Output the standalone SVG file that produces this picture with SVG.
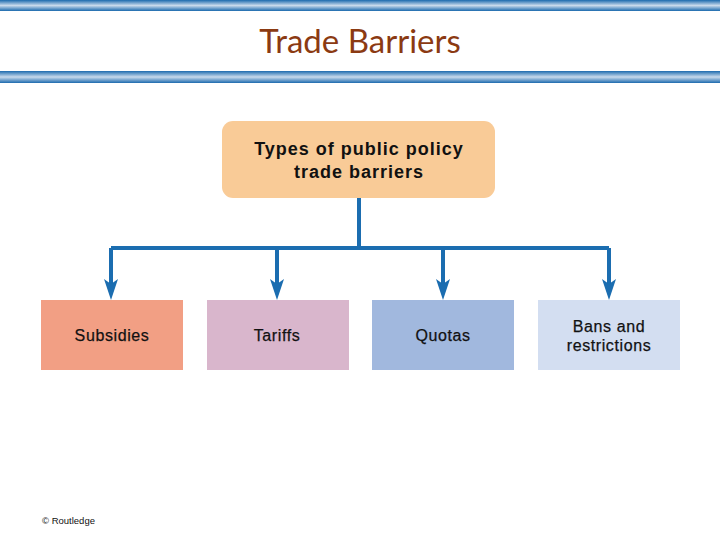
<svg xmlns="http://www.w3.org/2000/svg" width="720" height="540" viewBox="0 0 720 540">
<style>
.bar{fill:url(#barg)}
.lbl{font-family:"Liberation Sans",Arial,sans-serif;font-size:16px;fill:#111;text-anchor:middle;letter-spacing:0.6px;stroke:#111;stroke-width:0.25px}
.top{font-family:"Liberation Sans",Arial,sans-serif;font-size:18px;font-weight:bold;fill:#111;text-anchor:middle;letter-spacing:1px}
.conn{stroke:#1B6DB0;stroke-width:4;fill:none}
.head{fill:#1B6DB0}
</style>
<defs>
<linearGradient id="barg" x1="0" y1="0" x2="0" y2="1">
<stop offset="0" stop-color="#1C6AAE"/>
<stop offset="0.5" stop-color="#C9DAEC"/>
<stop offset="1" stop-color="#1C6AAE"/>
</linearGradient>
</defs>
<rect width="720" height="540" fill="#fff"/>
<rect class="bar" x="0" y="0" width="720" height="11"/>
<rect class="bar" x="0" y="71" width="720" height="12"/>
<text x="360" y="53" font-family="Lato,'Open Sans',sans-serif" font-size="33" fill="#8B3A12" text-anchor="middle">Trade Barriers</text>
<g id="connectors">
<path class="conn" d="M359 198V248M111 248H609M111 248V286M277 248V286M443 248V286M609 248V286"/>
<path class="head" d="M104 279L111 284L118 279L111 300Z"/>
<path class="head" d="M270 279L277 284L284 279L277 300Z"/>
<path class="head" d="M436 279L443 284L450 279L443 300Z"/>
<path class="head" d="M602 279L609 284L616 279L609 300Z"/>
</g>
<g id="root">
<rect x="222" y="121" width="273" height="77" rx="11" fill="#F9CB97"/>
<text class="top" x="359" y="155">Types of public policy</text>
<text class="top" x="359" y="178">trade barriers</text>
</g>
<g id="subsidies">
<rect x="41" y="300" width="142" height="70" fill="#F29F84"/>
<text class="lbl" x="112" y="341">Subsidies</text>
</g>
<g id="tariffs">
<rect x="207" y="300" width="142" height="70" fill="#D9B6CC"/>
<text class="lbl" x="277" y="341">Tariffs</text>
</g>
<g id="quotas">
<rect x="372" y="300" width="142" height="70" fill="#A1B8DE"/>
<text class="lbl" x="443" y="341">Quotas</text>
</g>
<g id="bans">
<rect x="538" y="300" width="142" height="70" fill="#D3DEF1"/>
<text class="lbl" x="609" y="332">Bans and</text>
<text class="lbl" x="609" y="351">restrictions</text>
</g>
<text x="42" y="524" font-family="'Liberation Sans',Arial,sans-serif" font-size="9.5" fill="#111">© Routledge</text>
</svg>
